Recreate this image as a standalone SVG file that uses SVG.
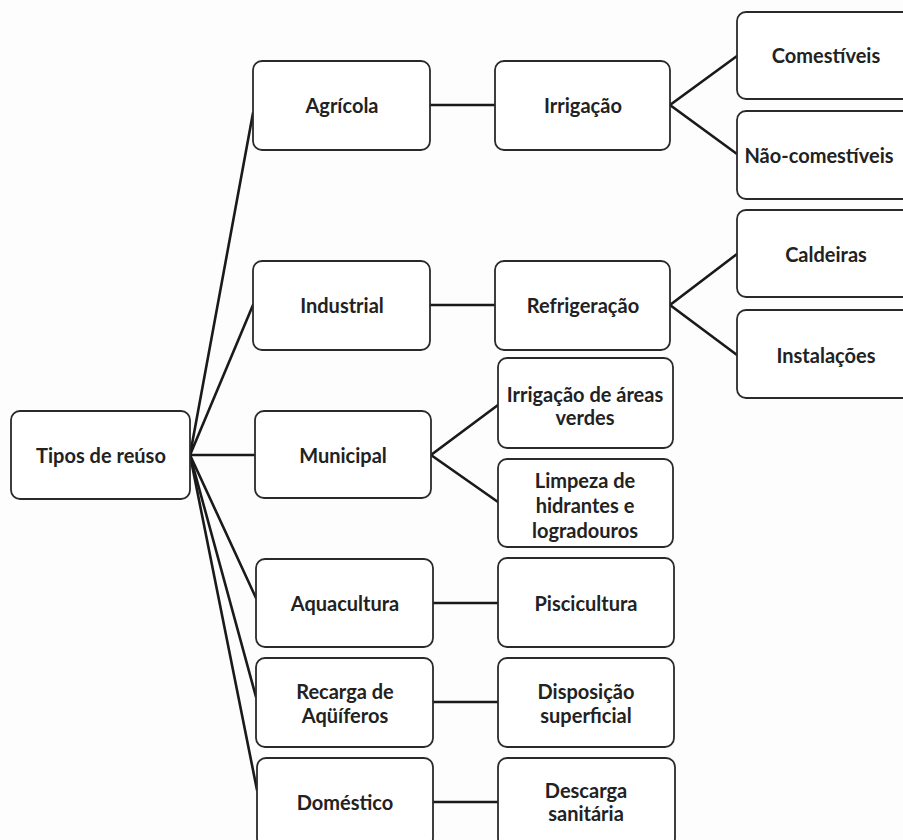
<svg xmlns="http://www.w3.org/2000/svg" width="903" height="840" viewBox="0 0 903 840">
<style>
.box{fill:#ffffff;stroke:#2a2a2a;stroke-width:1.8}
.t{font-family:Lato,"Open Sans","Liberation Sans",sans-serif;font-weight:bold;font-size:20px;fill:#222;text-anchor:middle;dominant-baseline:central}
.c{stroke:#1a1a1a;stroke-width:2.6;fill:none;stroke-linecap:round}
</style>
<rect width="903" height="840" fill="#fdfdfd"/>
<g id="connectors">
<line class="c" x1="190" y1="455" x2="253" y2="113"/>
<line class="c" x1="190" y1="455" x2="253" y2="305"/>
<line class="c" x1="190" y1="455" x2="255" y2="455"/>
<line class="c" x1="190" y1="455" x2="256" y2="598"/>
<line class="c" x1="190" y1="455" x2="256" y2="697"/>
<line class="c" x1="190" y1="455" x2="257" y2="790"/>
<line class="c" x1="430" y1="105" x2="495" y2="105"/>
<line class="c" x1="430" y1="305" x2="495" y2="305"/>
<line class="c" x1="433" y1="603" x2="498" y2="603"/>
<line class="c" x1="433" y1="702" x2="498" y2="702"/>
<line class="c" x1="433" y1="802" x2="498" y2="802"/>
<polyline class="c" points="737,56 670,105 737,154"/>
<polyline class="c" points="737,254 670,305 737,355"/>
<polyline class="c" points="498,405 431,455 498,502"/>
</g>
<g id="root"><rect class="box" x="11" y="411" width="179" height="88" rx="9"/><text class="t" x="101" y="455">Tipos de reúso</text></g>
<g id="agricola"><rect class="box" x="253" y="61" width="177" height="89" rx="9"/><text class="t" x="342" y="105">Agrícola</text></g>
<g id="irrigacao"><rect class="box" x="495" y="61" width="175" height="89" rx="9"/><text class="t" x="583" y="105">Irrigação</text></g>
<g id="comestiveis"><rect class="box" x="737" y="12" width="180" height="87" rx="9"/><text class="t" x="826" y="55">Comestíveis</text></g>
<g id="nao-comestiveis"><rect class="box" x="737" y="111" width="180" height="88" rx="9"/><text class="t" x="819" y="155">Não-comestíveis</text></g>
<g id="industrial"><rect class="box" x="253" y="261" width="177" height="89" rx="9"/><text class="t" x="342" y="305">Industrial</text></g>
<g id="refrigeracao"><rect class="box" x="495" y="261" width="175" height="89" rx="9"/><text class="t" x="583" y="305">Refrigeração</text></g>
<g id="caldeiras"><rect class="box" x="737" y="210" width="180" height="87" rx="9"/><text class="t" x="826" y="254">Caldeiras</text></g>
<g id="instalacoes"><rect class="box" x="737" y="310" width="180" height="88" rx="9"/><text class="t" x="826" y="355">Instalações</text></g>
<g id="municipal"><rect class="box" x="255" y="411" width="176" height="87" rx="9"/><text class="t" x="343" y="455">Municipal</text></g>
<g id="areas-verdes"><rect class="box" x="498" y="358" width="175" height="90" rx="9"/><text class="t" x="585" y="394">Irrigação de áreas</text><text class="t" x="585" y="417">verdes</text></g>
<g id="limpeza"><rect class="box" x="498" y="459" width="175" height="88" rx="9"/><text class="t" x="585" y="480">Limpeza de</text><text class="t" x="585" y="505">hidrantes e</text><text class="t" x="585" y="530">logradouros</text></g>
<g id="aquacultura"><rect class="box" x="256" y="559" width="177" height="88" rx="9"/><text class="t" x="345" y="603">Aquacultura</text></g>
<g id="piscicultura"><rect class="box" x="498" y="558" width="176" height="89" rx="9"/><text class="t" x="586" y="603">Piscicultura</text></g>
<g id="recarga"><rect class="box" x="256" y="658" width="177" height="89" rx="9"/><text class="t" x="345" y="691">Recarga de</text><text class="t" x="345" y="715">Aqüíferos</text></g>
<g id="disposicao"><rect class="box" x="498" y="658" width="176" height="89" rx="9"/><text class="t" x="586" y="691">Disposição</text><text class="t" x="586" y="715">superficial</text></g>
<g id="domestico"><rect class="box" x="257" y="758" width="176" height="89" rx="9"/><text class="t" x="345" y="802">Doméstico</text></g>
<g id="descarga"><rect class="box" x="498" y="758" width="177" height="89" rx="9"/><text class="t" x="586" y="790">Descarga</text><text class="t" x="586" y="813">sanitária</text></g>
</svg>
